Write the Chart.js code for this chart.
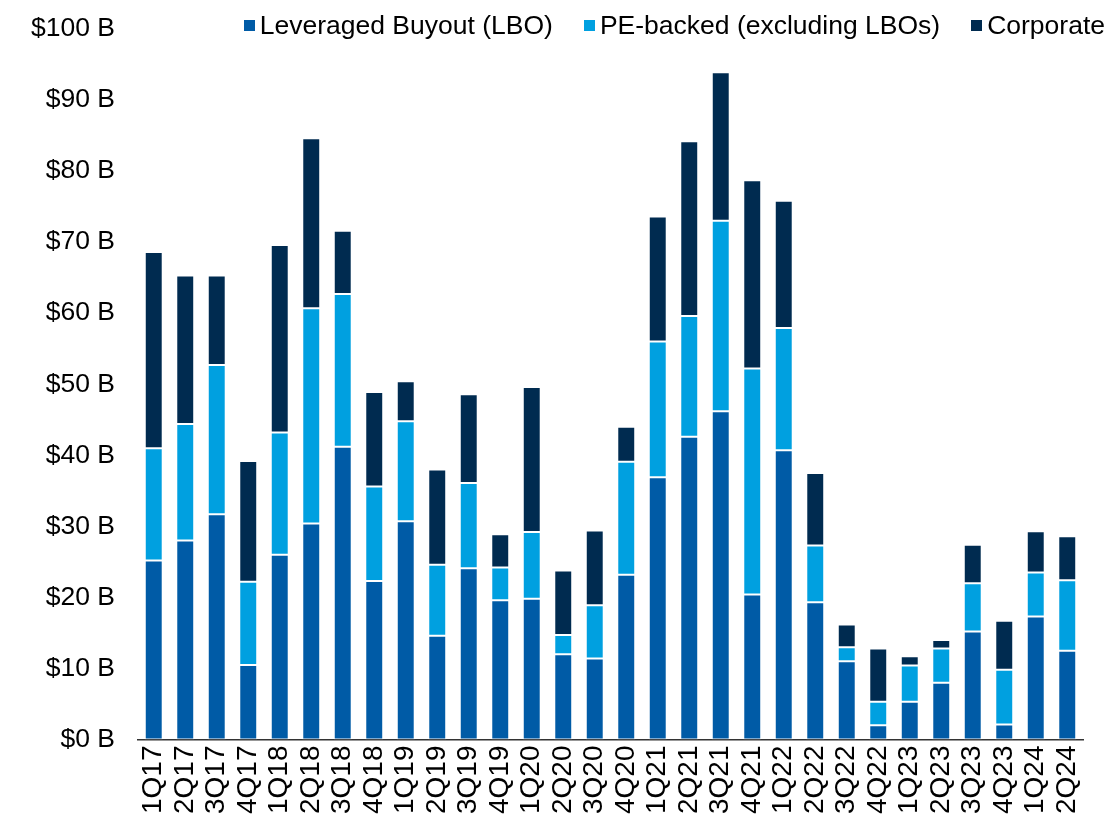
<!DOCTYPE html>
<html>
<head>
<meta charset="utf-8">
<script src="https://cdn.jsdelivr.net/npm/chart.js@4/dist/chart.umd.min.js"></script>
<style>
  html, body { margin: 0; padding: 0; background: #fff; overflow: hidden; }
  #wrap { position: relative; width: 1112px; height: 822px; overflow: hidden; }
  #dealchart { position: absolute; left: 0; top: -10px; }
  #legend {
    position: absolute; top: 8px; right: 7px;
    font-family: "Liberation Sans", Arial, sans-serif; font-size: 26.5px; color: #000;
    white-space: nowrap; line-height: 34px;
  }
  #legend span.item { margin-left: 31px; }
  #legend span.box { display: inline-block; width: 11px; height: 11px; margin-right: 5px; vertical-align: 3px; }
</style>
</head>
<body>
<div id="wrap">
  <canvas id="dealchart" width="1112" height="832"></canvas>
  <div id="legend"></div>
</div>
<script>
const quarters = ['1Q17','2Q17','3Q17','4Q17','1Q18','2Q18','3Q18','4Q18','1Q19','2Q19','3Q19','4Q19',
  '1Q20','2Q20','3Q20','4Q20','1Q21','2Q21','3Q21','4Q21','1Q22','2Q22','3Q22','4Q22',
  '1Q23','2Q23','3Q23','4Q23','1Q24','2Q24'];

// $ billions
const lbo = [25.2, 28.0, 31.7, 10.5, 26.0, 30.4, 41.2, 22.3, 30.7, 14.6, 24.1, 19.6,
  19.8, 12.0, 11.4, 23.2, 36.9, 42.6, 46.2, 20.4, 40.7, 19.3, 11.0, 2.0,
  5.3, 8.0, 15.2, 2.1, 17.3, 12.5];
const peBacked = [15.8, 16.4, 21.0, 11.7, 17.2, 30.3, 21.5, 13.3, 14.1, 10.0, 12.0, 4.6,
  9.4, 2.7, 7.5, 15.9, 19.1, 17.0, 26.8, 31.8, 17.2, 8.0, 2.0, 3.3,
  5.1, 4.8, 6.8, 7.7, 6.2, 9.9];
const corporate = [27.6, 20.9, 12.6, 17.0, 26.4, 23.9, 8.9, 13.3, 5.6, 13.4, 12.5, 4.7,
  20.4, 9.1, 10.5, 4.9, 17.6, 24.6, 20.9, 26.5, 17.9, 10.2, 3.2, 7.5,
  1.3, 1.2, 5.4, 6.9, 5.8, 6.2];

const seriesNames = ['Leveraged Buyout (LBO)', 'PE-backed (excluding LBOs)', 'Corporate'];
const seriesColors = ['#005ba6', '#00a0e0', '#002b50'];
const yTicks = [0, 10, 20, 30, 40, 50, 60, 70, 80, 90, 100];

const fontFamily = '"Liberation Sans", Arial, sans-serif';

// html legend
const legendEl = document.querySelector('#legend');
seriesNames.forEach((name, i) => {
  const item = document.createElement('span');
  item.className = 'item';
  item.innerHTML = `<span class="box" style="background:${seriesColors[i]}"></span>${name}`;
  legendEl.appendChild(item);
});

const makeSet = (label, data, color) => ({
  label: label,
  data: data,
  backgroundColor: color,
  borderColor: 'rgba(255,255,255,0.7)',
  borderWidth: 1,
  borderSkipped: false,
  barPercentage: 0.57,
  categoryPercentage: 1.0,
  stack: 'deals'
});

const dealChart = new Chart(document.querySelector('#dealchart'), {
  type: 'bar',
  data: {
    labels: quarters,
    datasets: [
      makeSet(seriesNames[0], lbo, seriesColors[0]),
      makeSet(seriesNames[1], peBacked, seriesColors[1]),
      makeSet(seriesNames[2], corporate, seriesColors[2])
    ]
  },
  options: {
    responsive: false,
    animation: false,
    layout: {
      padding: { left: 8, right: 29, top: 4, bottom: 2 }
    },
    plugins: {
      legend: { display: false },
      tooltip: { enabled: false }
    },
    scales: {
      x: {
        stacked: true,
        grid: { display: false, drawTicks: false },
        border: { display: true, color: '#333', width: 1.5 },
        ticks: {
          color: '#000',
          font: { family: fontFamily, size: 28 },
          minRotation: 90,
          maxRotation: 90,
          autoSkip: false,
          padding: 6
        }
      },
      y: {
        stacked: true,
        min: yTicks[0],
        max: yTicks[yTicks.length - 1],
        grid: { display: false, drawTicks: false },
        border: { display: false },
        afterBuildTicks: axis => { axis.ticks = yTicks.map(v => ({ value: v })); },
        ticks: {
          color: '#000',
          font: { family: fontFamily, size: 26.5 },
          padding: 23,
          callback: v => '$' + v + ' B'
        }
      }
    }
  }
});
</script>
</body>
</html>
